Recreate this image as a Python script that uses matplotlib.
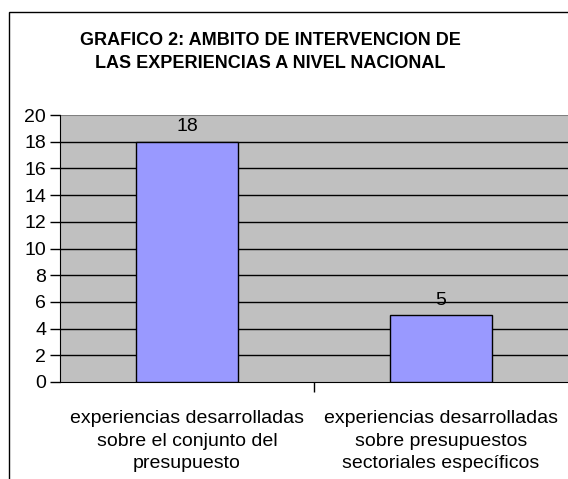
import matplotlib
matplotlib.use('Agg')
import matplotlib.pyplot as plt
from matplotlib.patches import Rectangle

plt.rcParams['font.family'] = ['Liberation Sans', 'DejaVu Sans']

# Data
categories = ['experiencias desarrolladas\nsobre el conjunto del\npresupuesto',
              'experiencias desarrolladas\nsobre presupuestos\nsectoriales específicos']
values = [18, 5]
title = 'GRAFICO 2: AMBITO DE INTERVENCION DE\nLAS EXPERIENCIAS A NIVEL NACIONAL'
yticks = list(range(0, 21, 2))

W, H = 568, 479
fig = plt.figure(figsize=(W / 100, H / 100), dpi=100)
fig.patch.set_facecolor('white')

# outer chart frame (runs off the right and bottom edges)
fig.patches.append(Rectangle((9 / W, -0.05), 1.1, 1 - 12 / H + 0.05,
                             transform=fig.transFigure, fill=False,
                             edgecolor='black', linewidth=1.0))

ax = fig.add_axes([60 / W, (H - 382) / H, (W - 60) / W, (382 - 115) / H])
ax.set_facecolor('#C0C0C0')

x = range(len(values))
ax.bar(x, values, width=0.4, color='#9999FF', edgecolor='black', linewidth=1.0, zorder=3)
for xi, v in zip(x, values):
    ax.text(xi, v + 0.5, str(v), ha='center', va='bottom', fontsize=14, zorder=4)

ax.set_xlim(-0.5, 1.5)
ax.set_ylim(0, 20)
ax.set_yticks(yticks)
ax.tick_params(axis='y', labelsize=14, length=7, width=1, direction='out', pad=3)
for y in yticks[1:-1]:
    ax.axhline(y, color='black', linewidth=1.0, zorder=1)
ax.axhline(20, color='#808080', linewidth=1.5, zorder=1)

ax.set_xticks([0, 1])
ax.set_xticklabels(categories, fontsize=14, linespacing=1.45)
ax.tick_params(axis='x', length=0, pad=20)
ax.set_xticks([0.5], minor=True)
ax.tick_params(axis='x', which='minor', length=7, width=1, direction='out')

for s in ['top', 'right']:
    ax.spines[s].set_visible(False)
ax.spines['left'].set_color('black')
ax.spines['bottom'].set_color('black')

fig.text(270 / W, 1 - 52 / H, title, ha='center', va='center', fontsize=13,
         fontweight='bold', linespacing=1.5)

fig.savefig('out.png', dpi=100)
